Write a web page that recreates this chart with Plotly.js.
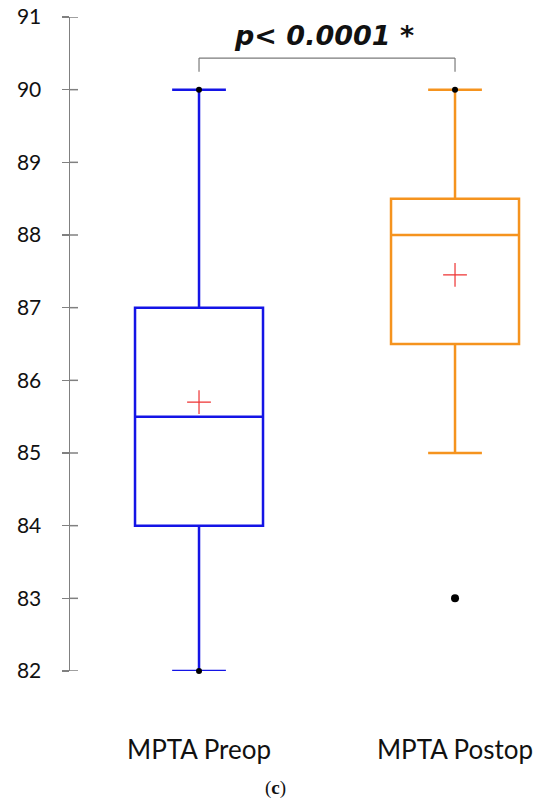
<!DOCTYPE html>
<html>
<head>
<meta charset="utf-8">
<script src="https://cdn.plot.ly/plotly-3.0.1.min.js"></script>
<style>html,body{margin:0;padding:0;background:#fff;}#chart{width:550px;height:804px;}</style>
</head>
<body>
<div id="chart"></div>
<script>
// MPTA before and after surgery (degrees)
const groups = ["MPTA Preop", "MPTA Postop"];
const q1 = [84, 86.5];
const medians = [85.5, 88];
const q3 = [87, 88.5];
const lowerWhisker = [82, 85];
const upperWhisker = [90, 90];
const means = [85.7, 87.45];
const minValues = [82, null];
const maxValues = [90, 90];
const outliers = [[], [83]];
const colors = ["#1414e6", "#f5931e"];
const yTicks = [82, 83, 84, 85, 86, 87, 88, 89, 90, 91];
const pLabel = "p< 0.0001 *";

const xPos = groups.map((g, i) => i);
const traces = [];

groups.forEach((g, i) => {
  traces.push({
    type: "box",
    x: [xPos[i]],
    q1: [q1[i]], median: [medians[i]], q3: [q3[i]],
    lowerfence: [lowerWhisker[i]], upperfence: [upperWhisker[i]],
    width: 0.5,
    whiskerwidth: 0.42,
    fillcolor: "rgba(0,0,0,0)",
    line: {color: colors[i], width: 2.5},
    boxpoints: false,
    hoverinfo: "skip",
    showlegend: false
  });
});

// mean markers
traces.push({
  type: "scatter", mode: "markers",
  x: xPos, y: means,
  marker: {symbol: "cross-thin", size: 17, line: {color: "#ee3333", width: 1.2}},
  showlegend: false, hoverinfo: "skip"
});

// minimum / maximum points
const mmX = [], mmY = [];
groups.forEach((g, i) => {
  if (minValues[i] !== null) { mmX.push(xPos[i]); mmY.push(minValues[i]); }
  if (maxValues[i] !== null) { mmX.push(xPos[i]); mmY.push(maxValues[i]); }
});
traces.push({
  type: "scatter", mode: "markers",
  x: mmX, y: mmY,
  marker: {color: "#000", size: 6},
  showlegend: false, hoverinfo: "skip", cliponaxis: false
});

// outliers
const oX = [], oY = [];
outliers.forEach((arr, i) => arr.forEach(v => { oX.push(xPos[i]); oY.push(v); }));
traces.push({
  type: "scatter", mode: "markers",
  x: oX, y: oY,
  marker: {color: "#000", size: 8},
  showlegend: false, hoverinfo: "skip"
});

// inner half of the y tick marks (outer half drawn by the axis)
const shapes = yTicks.map(t => ({
  type: "line", xref: "paper", yref: "y",
  x0: 0, x1: 8 / 480, y0: t, y1: t,
  line: {color: "#808080", width: 1.5}
}));

// significance bracket between the two maxima
const bracketTop = 90.435, bracketFoot = 90.245;
shapes.push(
  {type: "line", xref: "x", yref: "y", x0: xPos[0], x1: xPos[1], y0: bracketTop, y1: bracketTop, line: {color: "#7a7a7a", width: 1.2}},
  {type: "line", xref: "x", yref: "y", x0: xPos[0], x1: xPos[0], y0: bracketTop, y1: bracketFoot, line: {color: "#7a7a7a", width: 1.2}},
  {type: "line", xref: "x", yref: "y", x0: xPos[1], x1: xPos[1], y0: bracketTop, y1: bracketFoot, line: {color: "#7a7a7a", width: 1.2}}
);

const labelFont = "Lato, 'Open Sans', 'Liberation Sans', sans-serif";

const layout = {
  width: 550, height: 804,
  margin: {l: 70, r: 0, t: 17, b: 133},
  paper_bgcolor: "#fff", plot_bgcolor: "#fff",
  font: {family: labelFont, color: "#111"},
  xaxis: {
    range: [-0.504, 1.371],
    tickvals: xPos, ticktext: groups,
    showgrid: false, zeroline: false, showline: false,
    ticks: "", ticklabelstandoff: 61,
    tickfont: {size: 26, family: labelFont, color: "#111"}
  },
  yaxis: {
    range: [82, 91],
    tickvals: yTicks,
    showgrid: false, zeroline: false,
    showline: true, linecolor: "#808080", linewidth: 1.5,
    ticks: "outside", ticklen: 7, tickwidth: 1.5, tickcolor: "#808080",
    ticklabelstandoff: 16,
    tickfont: {size: 21, family: labelFont, color: "#111"}
  },
  shapes: shapes,
  annotations: [
    {
      xref: "x", yref: "y", x: (xPos[0] + xPos[1]) / 2 - 0.01, y: 90.75,
      text: "<b><i>" + pLabel + "</i></b>", showarrow: false,
      font: {size: 27, family: "'DejaVu Sans', sans-serif", color: "#111"}
    },
    {
      xref: "paper", yref: "paper", x: 205 / 480, y: -117 / 654,
      yanchor: "middle",
      text: "(<b>c</b>)", showarrow: false,
      font: {size: 19, family: "'Liberation Serif', 'DejaVu Serif', serif", color: "#111"}
    }
  ]
};

Plotly.newPlot("chart", traces, layout, {staticPlot: true, displayModeBar: false});
</script>
</body>
</html>
